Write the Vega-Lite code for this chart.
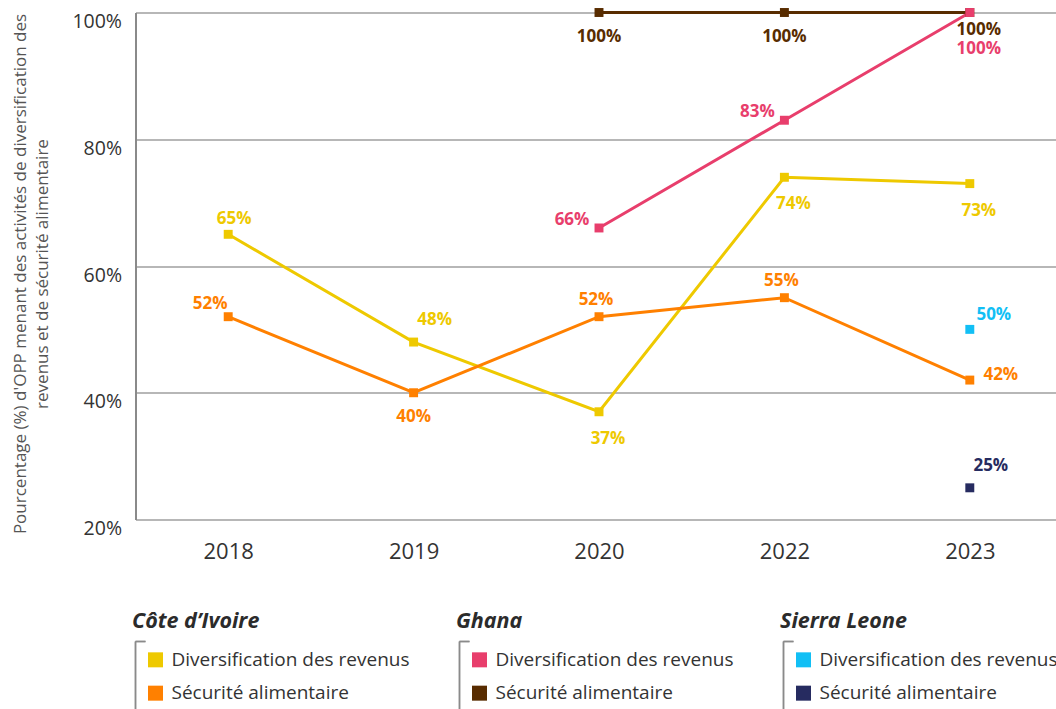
{
  "$schema": "https://vega.github.io/schema/vega-lite/v6.json",
  "padding": {"left": 11.5, "top": 6.5, "right": 0, "bottom": 0},
  "background": "white",
  "config": {"font": "Open Sans", "view": {"stroke": null}, "concat": {"spacing": 48}},
  "datasets": {
    "main": [
      {"country": "Côte d’Ivoire", "series": "Diversification des revenus", "year": "2018", "value": 65},
      {"country": "Côte d’Ivoire", "series": "Diversification des revenus", "year": "2019", "value": 48},
      {"country": "Côte d’Ivoire", "series": "Diversification des revenus", "year": "2020", "value": 37},
      {"country": "Côte d’Ivoire", "series": "Diversification des revenus", "year": "2022", "value": 74},
      {"country": "Côte d’Ivoire", "series": "Diversification des revenus", "year": "2023", "value": 73},
      {"country": "Côte d’Ivoire", "series": "Sécurité alimentaire", "year": "2018", "value": 52},
      {"country": "Côte d’Ivoire", "series": "Sécurité alimentaire", "year": "2019", "value": 40},
      {"country": "Côte d’Ivoire", "series": "Sécurité alimentaire", "year": "2020", "value": 52},
      {"country": "Côte d’Ivoire", "series": "Sécurité alimentaire", "year": "2022", "value": 55},
      {"country": "Côte d’Ivoire", "series": "Sécurité alimentaire", "year": "2023", "value": 42},
      {"country": "Ghana", "series": "Sécurité alimentaire", "year": "2020", "value": 100},
      {"country": "Ghana", "series": "Sécurité alimentaire", "year": "2022", "value": 100},
      {"country": "Ghana", "series": "Sécurité alimentaire", "year": "2023", "value": 100},
      {"country": "Ghana", "series": "Diversification des revenus", "year": "2020", "value": 66},
      {"country": "Ghana", "series": "Diversification des revenus", "year": "2022", "value": 83},
      {"country": "Ghana", "series": "Diversification des revenus", "year": "2023", "value": 100},
      {"country": "Sierra Leone", "series": "Diversification des revenus", "year": "2023", "value": 50},
      {"country": "Sierra Leone", "series": "Sécurité alimentaire", "year": "2023", "value": 25}
    ],
    "legend": [
      {"country": "Côte d’Ivoire", "series": "Diversification des revenus"},
      {"country": "Côte d’Ivoire", "series": "Sécurité alimentaire"},
      {"country": "Ghana", "series": "Diversification des revenus"},
      {"country": "Ghana", "series": "Sécurité alimentaire"},
      {"country": "Sierra Leone", "series": "Diversification des revenus"},
      {"country": "Sierra Leone", "series": "Sécurité alimentaire"}
    ]
  },
  "vconcat": [
    {
      "width": 927,
      "height": 507,
      "data": {"name": "main"},
      "transform": [
        {"calculate": "datum.country + ' | ' + datum.series", "as": "key"},
        {"calculate": "datum.value + '%'", "as": "label"}
      ],
      "encoding": {
        "x": {
          "field": "year", "type": "ordinal",
          "scale": {"type": "point", "domain": ["2018", "2019", "2020", "2022", "2023"], "padding": 0.5},
          "axis": {"title": null, "domain": false, "ticks": false, "tickSize": 0, "grid": false, "labelAngle": 0,
                   "labelFontSize": 22, "labelColor": "#333", "labelBaseline": "middle", "labelPadding": 32}
        },
        "y": {
          "field": "value", "type": "quantitative",
          "scale": {"domain": [20, 100], "nice": false, "zero": false},
          "axis": {
            "title": ["Pourcentage (%) d'OPP menant des activités de diversification des", "revenus et de sécurité alimentaire"],
            "titleFontSize": 17, "titleFontWeight": "normal", "titleColor": "#555", "titleLineHeight": 22, "titlePadding": 20, "titleY": 261,
            "values": [20, 40, 60, 80, 100], "labelExpr": "datum.value + '%'",
            "labelFontSize": 19.5, "labelColor": "#333", "labelOffset": 9, "labelPadding": 14,
            "ticks": false, "tickSize": 0,
            "domain": true, "domainColor": "#8a8a8a", "domainWidth": 2,
            "grid": true, "gridColor": "#707070", "gridWidth": 1.2
          }
        },
        "color": {
          "field": "key", "type": "nominal", "legend": null,
          "scale": {
            "domain": ["Côte d’Ivoire | Diversification des revenus", "Côte d’Ivoire | Sécurité alimentaire", "Ghana | Diversification des revenus", "Ghana | Sécurité alimentaire", "Sierra Leone | Diversification des revenus", "Sierra Leone | Sécurité alimentaire"],
            "range": ["#eec900", "#ff8000", "#e83e6c", "#582c00", "#12bff5", "#262b60"]
          }
        }
      },
      "layer": [
        {"mark": {"type": "line", "strokeWidth": 3}},
        {"mark": {"type": "point", "shape": "square", "filled": true, "size": 80, "opacity": 1}},
        {
          "transform": [{"filter": "(datum.key === 'Côte d’Ivoire | Sécurité alimentaire' && datum.year === '2019') || (datum.key === 'Ghana | Sécurité alimentaire' && datum.year !== '2023')"}],
          "mark": {"type": "text", "fontSize": 17, "fontWeight": "bold", "dx": 0, "dy": 24, "baseline": "middle"},
          "encoding": {"text": {"field": "label"}}
        },
        {
          "transform": [{"filter": "datum.key === 'Côte d’Ivoire | Diversification des revenus' && (datum.year === '2020' || datum.year === '2022' || datum.year === '2023')"}],
          "mark": {"type": "text", "fontSize": 17, "fontWeight": "bold", "dx": 9, "dy": 27, "baseline": "middle"},
          "encoding": {"text": {"field": "label"}}
        },
        {
          "transform": [{"filter": "datum.key === 'Ghana | Sécurité alimentaire' && datum.year === '2023'"}],
          "mark": {"type": "text", "fontSize": 17, "fontWeight": "bold", "dx": 9, "dy": 17, "baseline": "middle"},
          "encoding": {"text": {"field": "label"}}
        },
        {
          "transform": [{"filter": "datum.key === 'Ghana | Diversification des revenus' && datum.year === '2023'"}],
          "mark": {"type": "text", "fontSize": 17, "fontWeight": "bold", "dx": 9, "dy": 36, "baseline": "middle"},
          "encoding": {"text": {"field": "label"}}
        },
        {
          "transform": [{"filter": "datum.key === 'Côte d’Ivoire | Sécurité alimentaire' && (datum.year === '2020' || datum.year === '2022')"}],
          "mark": {"type": "text", "fontSize": 17, "fontWeight": "bold", "dx": -3, "dy": -17, "baseline": "middle"},
          "encoding": {"text": {"field": "label"}}
        },
        {
          "transform": [{"filter": "datum.key === 'Côte d’Ivoire | Diversification des revenus' && datum.year === '2018'"}],
          "mark": {"type": "text", "fontSize": 17, "fontWeight": "bold", "dx": 6, "dy": -15, "baseline": "middle"},
          "encoding": {"text": {"field": "label"}}
        },
        {
          "transform": [{"filter": "datum.key === 'Côte d’Ivoire | Sécurité alimentaire' && datum.year === '2018'"}],
          "mark": {"type": "text", "fontSize": 17, "fontWeight": "bold", "dx": -18, "dy": -13, "baseline": "middle"},
          "encoding": {"text": {"field": "label"}}
        },
        {
          "transform": [{"filter": "(datum.key === 'Côte d’Ivoire | Diversification des revenus' && datum.year === '2019') || datum.key === 'Sierra Leone | Sécurité alimentaire'"}],
          "mark": {"type": "text", "fontSize": 17, "fontWeight": "bold", "dx": 21, "dy": -22, "baseline": "middle"},
          "encoding": {"text": {"field": "label"}}
        },
        {
          "transform": [{"filter": "datum.key === 'Sierra Leone | Diversification des revenus'"}],
          "mark": {"type": "text", "fontSize": 17, "fontWeight": "bold", "dx": 24, "dy": -14, "baseline": "middle"},
          "encoding": {"text": {"field": "label"}}
        },
        {
          "transform": [{"filter": "datum.key === 'Ghana | Diversification des revenus' && datum.year !== '2023'"}],
          "mark": {"type": "text", "fontSize": 17, "fontWeight": "bold", "dx": -27, "dy": -8, "baseline": "middle"},
          "encoding": {"text": {"field": "label"}}
        },
        {
          "transform": [{"filter": "datum.key === 'Côte d’Ivoire | Sécurité alimentaire' && datum.year === '2023'"}],
          "mark": {"type": "text", "fontSize": 17, "fontWeight": "bold", "dx": 31, "dy": -5, "baseline": "middle"},
          "encoding": {"text": {"field": "label"}}
        }
      ]
    },
    {
      "width": 648,
      "height": 70,
      "data": {"name": "legend"},
      "transform": [{"calculate": "datum.country + ' | ' + datum.series", "as": "key"}],
      "encoding": {
        "x": {
          "field": "country", "type": "nominal",
          "scale": {"type": "point", "domain": ["Côte d’Ivoire", "Ghana", "Sierra Leone"], "padding": 0},
          "axis": {"orient": "top", "title": null, "domain": false, "ticks": false, "tickSize": 0, "grid": false, "labelAngle": 0,
                   "labelAlign": "left", "labelOffset": -4, "labelFontSize": 21.5, "labelFontStyle": "italic", "labelFontWeight": "bold",
                   "labelColor": "#2b2b2b", "labelPadding": 9, "labelBaseline": "bottom", "labelLimit": 0, "labelOverlap": false, "labelBound": false}
        }
      },
      "layer": [
        {"mark": {"type": "rule", "color": "#8a8a8a", "strokeWidth": 1.5}},
        {
          "mark": {"type": "rule", "color": "#8a8a8a", "strokeWidth": 1.5, "x2Offset": 10},
          "encoding": {"x2": {"field": "country"}, "y": {"value": 0}}
        },
        {
          "mark": {"type": "square", "size": 225, "xOffset": 20, "opacity": 1, "filled": true},
          "encoding": {
            "y": {"field": "series", "type": "nominal", "scale": {"type": "point", "domain": ["Diversification des revenus", "Sécurité alimentaire"], "padding": 0.55}, "axis": null},
            "color": {
              "field": "key", "type": "nominal", "legend": null,
              "scale": {
                "domain": ["Côte d’Ivoire | Diversification des revenus", "Côte d’Ivoire | Sécurité alimentaire", "Ghana | Diversification des revenus", "Ghana | Sécurité alimentaire", "Sierra Leone | Diversification des revenus", "Sierra Leone | Sécurité alimentaire"],
                "range": ["#eec900", "#ff8000", "#e83e6c", "#582c00", "#12bff5", "#262b60"]
              }
            }
          }
        },
        {
          "mark": {"type": "text", "align": "left", "baseline": "middle", "dx": 36, "fontSize": 19, "color": "#333"},
          "encoding": {
            "y": {"field": "series", "type": "nominal", "scale": {"type": "point", "domain": ["Diversification des revenus", "Sécurité alimentaire"], "padding": 0.55}, "axis": null},
            "text": {"field": "series"}
          }
        }
      ]
    }
  ]
}
